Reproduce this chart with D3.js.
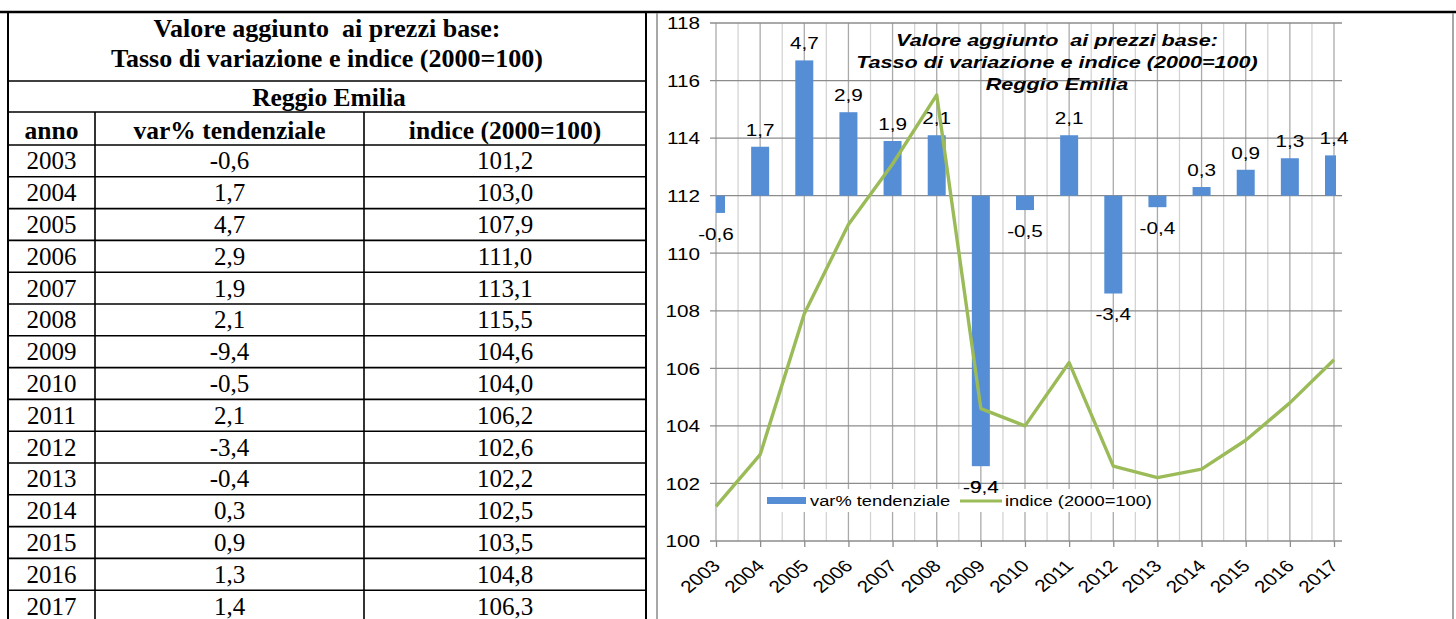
<!DOCTYPE html>
<html><head><meta charset="utf-8">
<script src="https://cdn.jsdelivr.net/npm/d3@7"></script>
<style>
html,body{margin:0;padding:0;background:#fff;}
svg{display:block;}
.tbl text{font-family:"Liberation Serif","Times New Roman",serif;fill:#000;}
.chart text{font-family:"Liberation Sans",Arial,sans-serif;fill:#000;}
</style></head>
<body>
<svg id="c" width="1456" height="619"></svg>
<script>
const years = ["2003","2004","2005","2006","2007","2008","2009","2010","2011","2012","2013","2014","2015","2016","2017"];
const varPct = [-0.6,1.7,4.7,2.9,1.9,2.1,-9.4,-0.5,2.1,-3.4,-0.4,0.3,0.9,1.3,1.4];
const indice = [101.2,103.0,107.9,111.0,113.1,115.5,104.6,104.0,106.2,102.6,102.2,102.5,103.5,104.8,106.3];
const yTicks = [100,102,104,106,108,110,112,114,116,118];
const titleLines = ["Valore aggiunto  ai prezzi base:","Tasso di variazione e indice (2000=100)","Reggio Emilia"];
const headers = ["anno","var% tendenziale","indice (2000=100)"];
const seriesNames = ["var% tendenziale","indice (2000=100)"];

const it = d3.formatLocale({decimal:",",thousands:".",grouping:[3],currency:["€",""],minus:"-"});
const f1 = it.format(".1f");

const svg = d3.select("#c");

// ---------- TABLE ----------
const T = {x0:8, x1:646, top:12, titleB:81, regB:112, headB:145, rowH:31.8, colX:[8,95,364,646]};
const tbl = svg.append("g").attr("class","tbl");
const tcx = (T.x0+T.x1)/2;
tbl.selectAll("text.tt").data(titleLines.slice(0,2)).join("text")
  .attr("x",tcx).attr("y",(d,i)=>28+i*30).attr("text-anchor","middle").attr("dominant-baseline","central")
  .style("font-size","26px").style("font-weight","bold").style("white-space","pre").text(d=>d);
tbl.append("text").attr("x",tcx+2).attr("y",97).attr("text-anchor","middle").attr("dominant-baseline","central")
  .style("font-size","25.5px").style("font-weight","bold").text(titleLines[2]);
const colC = [0,1,2].map(i=>(T.colX[i]+T.colX[i+1])/2);
tbl.selectAll("text.h").data(headers).join("text")
  .attr("x",(d,i)=>colC[i]).attr("y",130).attr("text-anchor","middle").attr("dominant-baseline","central")
  .style("font-size","25.5px").style("font-weight","bold").text(d=>d);
const rowY = i => T.headB + T.rowH*i + T.rowH/2;
const rows = years.map((y,i)=>[y,f1(varPct[i]),f1(indice[i])]);
rows.forEach((r,i)=>{
  r.forEach((v,j)=>{
    tbl.append("text").attr("x",colC[j]).attr("y",rowY(i)).attr("text-anchor","middle").attr("dominant-baseline","central")
      .style("font-size","25px").text(v);
  });
});
// table lines
const lw = 1.6;
function hl(y,x0,x1,w){tbl.append("line").attr("x1",x0).attr("x2",x1).attr("y1",y).attr("y2",y).attr("stroke","#000").attr("stroke-width",w);}
function vl(x,y0,y1,w){tbl.append("line").attr("x1",x).attr("x2",x).attr("y1",y0).attr("y2",y1).attr("stroke","#000").attr("stroke-width",w);}
hl(T.top,0,1456,2.4);
hl(T.titleB,T.x0,T.x1,lw);
hl(T.regB,T.x0,T.x1,lw);
hl(T.headB,T.x0,T.x1,lw);
for(let i=1;i<=years.length;i++) hl(T.headB+T.rowH*i,T.x0,T.x1,lw);
vl(T.x0,T.top,619,2);
vl(T.x1,T.top,619,2);
vl(T.colX[1],T.regB,619,lw);
vl(T.colX[2],T.regB,619,lw);

// ---------- CHART ----------
const ch = svg.append("g").attr("class","chart");
// frame
ch.append("line").attr("x1",657).attr("x2",657).attr("y1",13).attr("y2",619).attr("stroke","#8a8a8a").attr("stroke-width",1.5);
ch.append("line").attr("x1",1453).attr("x2",1453).attr("y1",13).attr("y2",619).attr("stroke","#8a8a8a").attr("stroke-width",1.5);

const P = {l:716, r:1334, t:23, b:541};
const x = d3.scalePoint().domain(years).range([P.l,P.r]);
const yI = d3.scaleLinear().domain([100,118]).range([P.b,P.t]);
const yV = d3.scaleLinear().domain([-12,6]).range([P.b,P.t]);
const step = x.step();
const SX = 1.22;

// minor vertical gridlines
const mids = years.slice(0,-1).map(d=>x(d)+step/2);
ch.selectAll("line.minor").data(mids).join("line")
  .attr("x1",d=>d).attr("x2",d=>d).attr("y1",P.t).attr("y2",P.b).attr("stroke","#d4d4d4").attr("stroke-width",1.3);
// major vertical gridlines
ch.selectAll("line.major").data(years).join("line")
  .attr("x1",d=>x(d)).attr("x2",d=>x(d)).attr("y1",P.t).attr("y2",P.b).attr("stroke","#aaaaaa").attr("stroke-width",1.3);
// horizontal gridlines
ch.selectAll("line.hg").data(yTicks).join("line")
  .attr("x1",710).attr("x2",1342).attr("y1",d=>yI(d)).attr("y2",d=>yI(d)).attr("stroke","#8c8c8c").attr("stroke-width",1.3);

// y axis labels
const ya = ch.append("g").attr("transform",`translate(${P.l},0)`)
  .call(d3.axisLeft(yI).tickValues(yTicks).tickSize(0).tickFormat(d3.format("d")));
ya.select(".domain").remove();
ya.selectAll("text").attr("x",0).attr("dy",null).attr("dominant-baseline","central")
  .attr("transform",`translate(-16,0) scale(${SX},1)`).style("font-size","17px").style("font-family","Liberation Sans, Arial");

// x axis
const xa = ch.append("g").attr("transform",`translate(0,${P.b})`)
  .call(d3.axisBottom(x).tickSize(6).tickPadding(0));
xa.select(".domain").remove();
xa.selectAll("line").attr("stroke","#8c8c8c").attr("stroke-width",1.3);
xa.selectAll("text").attr("y",0).attr("dy",null).attr("text-anchor","end").attr("dominant-baseline","auto")
  .attr("transform",`translate(5,26) scale(${SX},1) rotate(-45)`).style("font-size","17px").style("font-family","Liberation Sans, Arial");

// chart title
ch.selectAll("text.ct").data(titleLines).join("text")
  .attr("transform",(d,i)=>`translate(1057,${40+i*22}) scale(1.27,1)`)
  .attr("text-anchor","middle").attr("dominant-baseline","central")
  .style("font-size","17px").style("font-weight","bold").style("font-style","italic").style("white-space","pre").text(d=>d);

// bars
const clip = svg.append("defs").append("clipPath").attr("id","pc");
clip.append("rect").attr("x",P.l).attr("y",0).attr("width",1336-P.l).attr("height",619);
const bw = 18;
ch.append("g").attr("clip-path","url(#pc)").selectAll("rect").data(varPct).join("rect")
  .attr("x",(d,i)=>x(years[i])-bw/2).attr("width",bw)
  .attr("y",d=>Math.min(yV(d),yV(0))).attr("height",d=>Math.abs(yV(d)-yV(0)))
  .attr("fill","#558ED5");

// bar labels
ch.selectAll("text.bl").data(varPct).join("text")
  .attr("transform",(d,i)=>`translate(${x(years[i])},${d>=0? yV(d)-17 : yV(d)+21}) scale(${SX},1)`)
  .attr("text-anchor","middle").attr("dominant-baseline","central")
  .style("font-size","17px").text(d=>f1(d));

// line
ch.append("path").datum(indice)
  .attr("d",d3.line().x((d,i)=>x(years[i])).y(d=>yI(d)))
  .attr("fill","none").attr("stroke","#9BBB59").attr("stroke-width",3.4).attr("stroke-linejoin","round");

// legend
const lg = ch.append("g");
lg.append("rect").attr("x",763).attr("y",489).attr("width",390).attr("height",23).attr("fill","#fff");
lg.append("rect").attr("x",767).attr("y",497).attr("width",39).attr("height",7).attr("fill","#558ED5");
lg.append("text").attr("transform",`translate(810,501) scale(${SX},1)`).attr("dominant-baseline","central")
  .style("font-size","15px").text(seriesNames[0]);
lg.append("line").attr("x1",960).attr("x2",1002).attr("y1",501).attr("y2",501).attr("stroke","#9BBB59").attr("stroke-width",3);
lg.append("text").attr("transform",`translate(1005,501) scale(${SX},1)`).attr("dominant-baseline","central")
  .style("font-size","15px").text(seriesNames[1]);
// -9,4 label above legend
const i09 = years.indexOf("2009");
ch.append("text").attr("transform",`translate(${x(years[i09])},${yV(varPct[i09])+21}) scale(${SX},1)`)
  .attr("text-anchor","middle").attr("dominant-baseline","central").style("font-size","17px").text(f1(varPct[i09]));
</script>
</body></html>
